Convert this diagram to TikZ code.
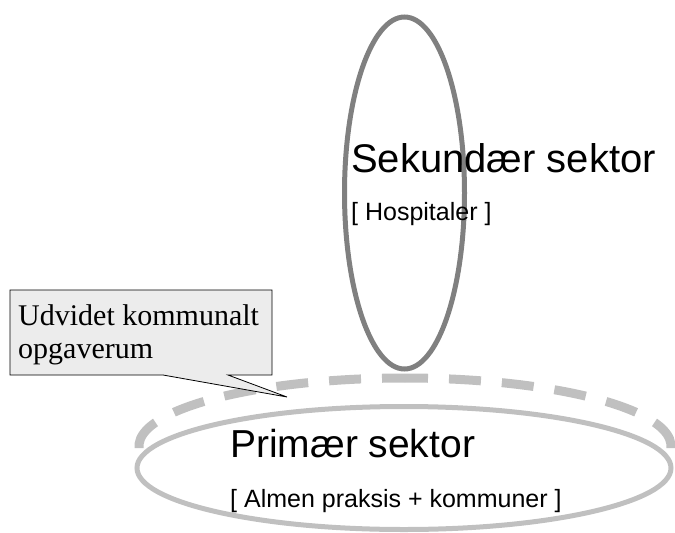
\documentclass[tikz,border=0pt]{standalone}
\usepackage{fontspec}
\setmainfont{Liberation Serif}
\newfontfamily\arialf{Liberation Sans}
\usetikzlibrary{shapes.geometric}
\definecolor{darkgrey}{HTML}{808080}
\definecolor{lightgrey}{HTML}{C0C0C0}
\definecolor{boxfill}{HTML}{ECECEC}
\tikzset{
  ring/.style={shape=ellipse, inner sep=0pt, outer sep=0pt, line width=5pt},
  dashring/.style={draw=lightgrey, line width=9pt, dash pattern=on 32pt off 21pt, dash phase=9pt},
  bigtxt/.style={anchor=base west, inner sep=0pt, font=\arialf\fontsize{39}{46}\selectfont},
  subtxt/.style={anchor=base west, inner sep=0pt, font=\arialf\fontsize{25}{30}\selectfont},
  calltxt/.style={anchor=base west, inner sep=0pt, font=\fontsize{30}{34}\selectfont},
  callbox/.style={draw=black, line width=0.8pt, fill=boxfill, line join=miter}
}
\begin{document}
\begin{tikzpicture}[x=1pt,y=-1pt]
\useasboundingbox (0,0) rectangle (675,533);
% bottom (primary) ellipse
\node[ring, draw=lightgrey, minimum width=534pt, minimum height=123pt] (prim) at (404,468) {};
% dashed extended area (upper half of an ellipse)
\coordinate (dtop) at (405,378);
\draw[dashring] (dtop) arc[start angle=270, end angle=178, x radius=266, y radius=68];
\draw[dashring] (dtop) arc[start angle=270, end angle=362, x radius=266, y radius=68];
% vertical (secondary) ellipse
\node[ring, draw=darkgrey, minimum width=120pt, minimum height=352pt] (sek) at (404.5,193) {};
% callout
\coordinate (cnw) at (10,290);
\coordinate (cne) at (272,290);
\coordinate (cse) at (272,375);
\coordinate (csw) at (10,375);
\coordinate (pr) at (228,375);
\coordinate (pl) at (163,375);
\coordinate (tip) at (287,397);
\draw[callbox] (cnw) -- (cne) -- (cse) -- (pr) -- (tip) -- (pl) -- (csw) -- cycle;
\node[calltxt] (c1) at (18,325) {Udvidet kommunalt};
\node[calltxt] (c2) at (18,358) {opgaverum};
% texts
\node[bigtxt, font=\arialf\fontsize{40}{46}\selectfont] (sektxt) at (351,172) {Sekundær sektor};
\node[subtxt] (hosp) at (351,220) {[ Hospitaler ]};
\node[bigtxt] (primtxt) at (230,457) {Primær sektor};
\node[subtxt] (alm) at (230,507) {[ Almen praksis + kommuner ]};
\end{tikzpicture}
\end{document}
